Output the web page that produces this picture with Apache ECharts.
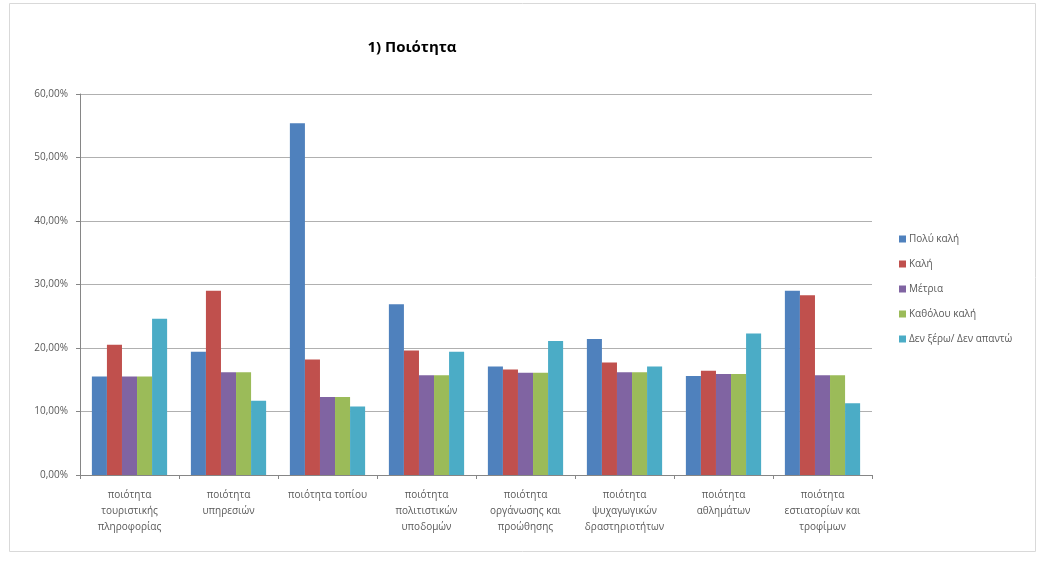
<!DOCTYPE html>
<html>
<head>
<meta charset="utf-8">
<script src="https://cdn.jsdelivr.net/npm/echarts@6/dist/echarts.min.js"></script>
<style>
html,body{margin:0;padding:0;background:#fff;}
#chart{width:1041px;height:563px;}
</style>
</head>
<body>
<div id="chart"></div>
<script>
const categories = [
  "ποιότητα\nτουριστικής\nπληροφορίας",
  "ποιότητα\nυπηρεσιών",
  "ποιότητα τοπίου",
  "ποιότητα\nπολιτιστικών\nυποδομών",
  "ποιότητα\nοργάνωσης και\nπροώθησης",
  "ποιότητα\nψυχαγωγικών\nδραστηριοτήτων",
  "ποιότητα\nαθλημάτων",
  "ποιότητα\nεστιατορίων και\nτροφίμων"
];
const seriesNames = ["Πολύ καλή", "Καλή", "Μέτρια", "Καθόλου καλή", "Δεν ξέρω/ Δεν απαντώ"];
const polyKali   = [15.5, 19.4, 55.4, 26.9, 17.1, 21.4, 15.6, 29.0];
const kali       = [20.5, 29.0, 18.2, 19.6, 16.6, 17.7, 16.4, 28.3];
const metria     = [15.5, 16.2, 12.3, 15.7, 16.1, 16.2, 15.9, 15.7];
const katholou   = [15.5, 16.2, 12.3, 15.7, 16.1, 16.2, 15.9, 15.7];
const denXero    = [24.6, 11.7, 10.8, 19.4, 21.1, 17.1, 22.3, 11.3];
const yTicks = [0, 10, 20, 30, 40, 50, 60];

const colors = ["#4F81BD", "#C0504D", "#8064A2", "#9BBB59", "#4BACC6"];
const values = [polyKali, kali, metria, katholou, denXero];

const chart = echarts.init(document.getElementById('chart'), null, {renderer: 'canvas'});
const txt = '#595959';
chart.setOption({
  animation: false,
  color: colors,
  graphic: [{
    type: 'rect', left: 7, top: 1, shape: {width: 1026, height: 548},
    style: {fill: 'none', stroke: '#d9d9d9', lineWidth: 1}, silent: true
  }],
  title: {
    text: '1) Ποιότητα', left: 407, top: 35, textAlign: 'center',
    textStyle: {fontFamily: 'Open Sans', fontSize: 15, fontWeight: 'bold', color: '#000'}
  },
  legend: {
    orient: 'vertical', left: 894, top: 229, itemGap: 15,
    itemWidth: 7, itemHeight: 7, icon: 'rect',
    textStyle: {fontFamily: 'Open Sans', fontSize: 10, color: txt, padding: [0, 0, 0, -2]},
    data: seriesNames
  },
  grid: {left: 80, right: 169, top: 94, bottom: 88, containLabel: false},
  xAxis: {
    type: 'category', data: categories,
    axisLine: {lineStyle: {color: '#868686'}},
    axisTick: {show: true, length: 4, lineStyle: {color: '#868686'}},
    axisLabel: {fontFamily: 'Open Sans', fontSize: 10, color: txt, lineHeight: 16, margin: 12, interval: 0}
  },
  yAxis: {
    type: 'value', min: yTicks[0], max: yTicks[yTicks.length - 1], interval: 10,
    axisLine: {show: true, lineStyle: {color: '#868686'}},
    axisTick: {show: true, length: 4, lineStyle: {color: '#868686'}},
    splitLine: {lineStyle: {color: '#b0b0b0'}},
    axisLabel: {
      fontFamily: 'Open Sans', fontSize: 10, color: txt, margin: 12,
      formatter: v => v.toFixed(2).replace('.', ',') + '%'
    }
  },
  series: seriesNames.map((n, i) => ({
    name: n, type: 'bar', data: values[i],
    barGap: '0%', barCategoryGap: '24%',
    itemStyle: {color: colors[i]}
  }))
});
</script>
</body>
</html>
